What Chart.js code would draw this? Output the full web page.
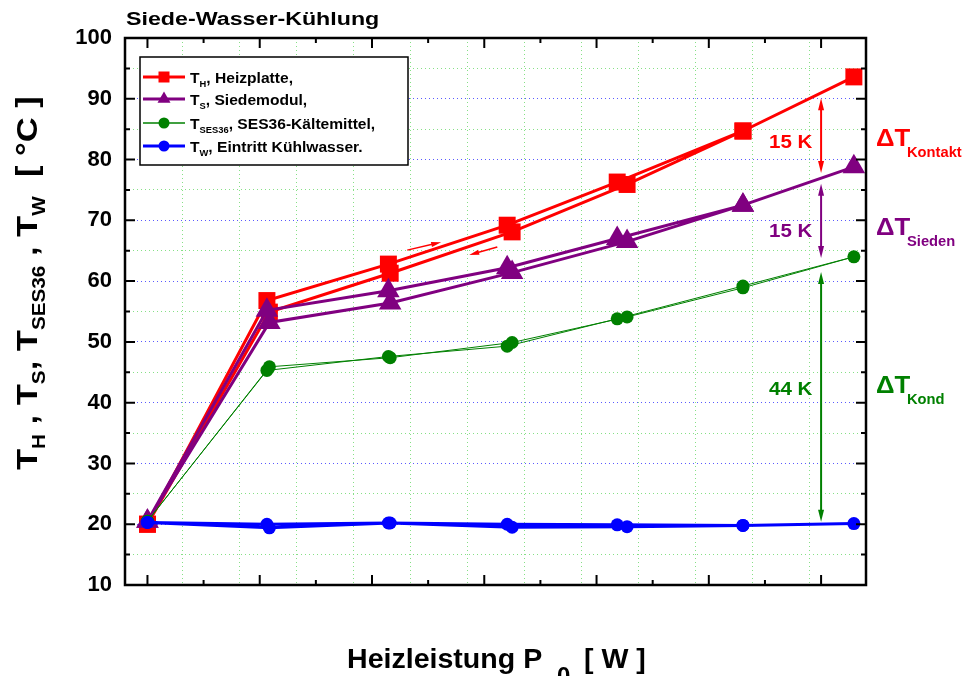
<!DOCTYPE html>
<html>
<head>
<meta charset="utf-8">
<script src="https://cdn.jsdelivr.net/npm/chart.js@4.4.0/dist/chart.umd.min.js"></script>
<style>
  html, body { margin: 0; padding: 0; background: #fff; }
</style>
</head>
<body>
<canvas id="chart" width="965" height="676"></canvas>
<script>
// heating power, up the ramp and back down again (W)
const power = [0, 532, 1073, 1602, 2092, 2652, 3146, 2652, 2136, 1624, 1081, 543, 0];
const tHeiz = [20.0, 56.8, 62.8, 69.2, 76.3, 84.7, 93.6, 84.7, 75.9, 68.1, 61.3, 54.9, 20.0];
const tSiede = [20.5, 55.2, 58.4, 62.2, 67.0, 72.5, 78.8, 72.5, 66.5, 61.4, 56.4, 53.2, 20.5];
const tSes36 = [20.5, 45.3, 47.6, 49.3, 53.8, 59.2, 64.0, 58.9, 54.1, 49.9, 47.4, 45.9, 20.5];
const tWasser = [20.3, 20.0, 20.2, 20.0, 19.9, 19.8, 20.1, 19.8, 19.6, 19.5, 20.2, 19.4, 20.3];

const xTicks = [0, 500, 1000, 1500, 2000, 2500, 3000];
const yTicks = [10, 20, 30, 40, 50, 60, 70, 80, 90, 100];

// delta annotations at P = 3000 W
const deltaAt = 3000;
const deltas = [
  { from: 90.1, to: 77.8, label: '15 K', sym: 'Kontakt', color: '#ff0000', base: 148 },
  { from: 76.0, to: 63.8, label: '15 K', sym: 'Sieden', color: '#800080', base: 237 },
  { from: 61.5, to: 20.4, label: '44 K', sym: 'Kond', color: '#008000', base: 395 }
];

const RED = '#ff0000', PURPLE = '#800080', GREEN = '#008000', BLUE = '#0000ff';
const FONT = '"Liberation Sans", Arial, sans-serif';

const pts = vals => power.map((p, i) => ({ x: p, y: vals[i] }));

function rich(ctx, segs, x, y, color, sx) {
  ctx.save();
  ctx.translate(x, y);
  ctx.scale(sx || 1, 1);
  ctx.fillStyle = color;
  ctx.textBaseline = 'alphabetic';
  let cx = 0;
  segs.forEach(([s, size, dy]) => {
    ctx.font = 'bold ' + size + 'px ' + FONT;
    ctx.fillText(s, cx, dy);
    cx += ctx.measureText(s).width;
  });
  ctx.restore();
}

function marker(ctx, type, x, y, r, color) {
  ctx.fillStyle = color;
  ctx.beginPath();
  if (type === 'rect') {
    ctx.rect(x - r, y - r, 2 * r, 2 * r);
  } else if (type === 'triangle') {
    ctx.moveTo(x, y - r);
    ctx.lineTo(x + r * 0.866, y + r / 2);
    ctx.lineTo(x - r * 0.866, y + r / 2);
    ctx.closePath();
  } else {
    ctx.arc(x, y, r, 0, Math.PI * 2);
  }
  ctx.fill();
}

function head(ctx, x, y, ang, len, w, color) {
  ctx.save();
  ctx.translate(x, y);
  ctx.rotate(ang);
  ctx.fillStyle = color;
  ctx.beginPath();
  ctx.moveTo(0, 0);
  ctx.lineTo(-len, -w / 2);
  ctx.lineTo(-len, w / 2);
  ctx.closePath();
  ctx.fill();
  ctx.restore();
}

const decor = {
  id: 'decor',
  afterDraw(chart) {
    const ctx = chart.ctx;
    const a = chart.chartArea;
    const xs = chart.scales.x, ys = chart.scales.y;
    const X = v => xs.getPixelForValue(v), Y = v => ys.getPixelForValue(v);

    // inward ticks on all four sides
    ctx.save();
    ctx.strokeStyle = '#000';
    ctx.lineWidth = 2;
    ctx.beginPath();
    xTicks.forEach(v => {
      [[v, 10], [v + 250, 5]].forEach(([t, len]) => {
        if (t > xs.max) return;
        const px = X(t);
        ctx.moveTo(px, a.bottom); ctx.lineTo(px, a.bottom - len);
        ctx.moveTo(px, a.top); ctx.lineTo(px, a.top + len);
      });
    });
    yTicks.forEach(v => {
      [[v, 10], [v + 5, 5]].forEach(([t, len]) => {
        if (t > ys.max) return;
        const py = Y(t);
        ctx.moveTo(a.left, py); ctx.lineTo(a.left + len, py);
        ctx.moveTo(a.right, py); ctx.lineTo(a.right - len, py);
      });
    });
    ctx.stroke();
    ctx.lineWidth = 2.5;
    ctx.strokeRect(a.left, a.top, a.right - a.left, a.bottom - a.top);
    ctx.restore();

    // title
    rich(ctx, [['Siede-Wasser-Kühlung', 18, 0]], 126, 25, '#000', 1.29);

    // x axis title
    rich(ctx, [['Heizleistung P', 28, 0]], 347, 668, '#000', 1.02);
    rich(ctx, [['0', 24, 0]], 557, 684, '#000', 1);
    rich(ctx, [['[ W ]', 28, 0]], 584, 668, '#000', 1.02);

    // y axis title
    ctx.save();
    ctx.translate(37, 470);
    ctx.rotate(-Math.PI / 2);
    rich(ctx, [['T', 30, 0], ['H', 18, 8], [' , ', 30, 0], ['T', 30, 0], ['S', 18, 8], [', ', 30, 0],
               ['T', 30, 0], ['SES36', 18, 8], [' , ', 30, 0], ['T', 30, 0], ['W', 18, 8], ['  [ °C ]', 30, 0]],
         0, 0, '#000', 1.15);
    ctx.restore();

    // legend
    ctx.save();
    ctx.fillStyle = '#fff';
    ctx.fillRect(140, 57, 268, 108);
    ctx.strokeStyle = '#000';
    ctx.lineWidth = 1.5;
    ctx.strokeRect(140, 57, 268, 108);
    const rows = [
      [RED, 3, 'rect', 5.5, 'H', ', Heizplatte,'],
      [PURPLE, 3, 'triangle', 7.5, 'S', ', Siedemodul,'],
      [GREEN, 1.5, 'circle', 5.5, 'SES36', ', SES36-Kältemittel,'],
      [BLUE, 3, 'circle', 5.5, 'W', ', Eintritt Kühlwasser.']
    ];
    rows.forEach(([c, lw, m, r, sub, text], i) => {
      const cy = [77, 99, 123, 146][i];
      ctx.strokeStyle = c;
      ctx.lineWidth = lw;
      ctx.beginPath();
      ctx.moveTo(143, cy); ctx.lineTo(185, cy);
      ctx.stroke();
      marker(ctx, m, 164, cy, r, c);
      rich(ctx, [['T', 15, 0], [sub, 9, 4], [text, 15, 0]], 190, cy + 6, '#000', 1.04);
    });
    ctx.restore();

    // delta arrows and labels
    ctx.save();
    const px = X(deltaAt);
    deltas.forEach(d => {
      const y1 = Y(d.from), y2 = Y(d.to);
      ctx.strokeStyle = d.color;
      ctx.lineWidth = 2;
      ctx.beginPath();
      ctx.moveTo(px, y1 + 8); ctx.lineTo(px, y2 - 8);
      ctx.stroke();
      head(ctx, px, y1, -Math.PI / 2, 12, 6, d.color);
      head(ctx, px, y2, Math.PI / 2, 12, 6, d.color);
      rich(ctx, [[d.label, 18, 0]], 769, d.base, d.color, 1.14);
      rich(ctx, [['\u0394T', 23, 0]], 876, d.base - 2, d.color, 1.12);
      rich(ctx, [[d.sym, 14, 0]], 907, d.base + 9, d.color, 1.05);
    });
    // direction of the ramp
    ctx.strokeStyle = RED;
    ctx.lineWidth = 1.5;
    [[1157, 65.1, 1308, 66.4], [1558, 65.6, 1433, 64.3]].forEach(([x1, y1, x2, y2]) => {
      const ax = X(x1), ay = Y(y1), bx = X(x2), by = Y(y2);
      const ang = Math.atan2(by - ay, bx - ax);
      ctx.beginPath();
      ctx.moveTo(ax, ay); ctx.lineTo(bx - 8 * Math.cos(ang), by - 8 * Math.sin(ang));
      ctx.stroke();
      head(ctx, bx, by, ang, 10, 5, RED);
    });
    ctx.restore();
  }
};

const gridColor = major => c => (c.tick && c.tick.value % major === 0) ? '#5a5aff' : '#86e086';

new Chart(document.getElementById('chart'), {
  type: 'scatter',
  data: {
    datasets: [
      { data: pts(tHeiz), showLine: true, borderColor: RED, backgroundColor: RED, borderWidth: 3,
        pointStyle: 'rect', pointRadius: 12, pointBorderWidth: 0, order: 4 },
      { data: pts(tSiede), showLine: true, borderColor: PURPLE, backgroundColor: PURPLE, borderWidth: 3,
        pointStyle: 'triangle', pointRadius: 13, pointBorderWidth: 0, order: 3 },
      { data: pts(tSes36), showLine: true, borderColor: GREEN, backgroundColor: GREEN, borderWidth: 1,
        pointStyle: 'circle', pointRadius: 6.5, pointBorderWidth: 0, order: 2 },
      { data: pts(tWasser), showLine: true, borderColor: BLUE, backgroundColor: BLUE, borderWidth: 3,
        pointStyle: 'circle', pointRadius: 6.5, pointBorderWidth: 0, order: 1 }
    ]
  },
  options: {
    responsive: false,
    animation: false,
    devicePixelRatio: 1,
    layout: { padding: { top: 38, right: 99, left: 0, bottom: 0 } },
    plugins: { legend: { display: false }, tooltip: { enabled: false } },
    scales: {
      x: {
        type: 'linear', min: -100, max: 3200,
        afterFit: s => { s.height = 91; },
        ticks: {
          stepSize: 250, includeBounds: false, autoSkip: false, maxRotation: 0, padding: 9,
          color: '#000', font: { family: FONT, size: 22, weight: 'bold' },
          callback: v => (v % 500 === 0 ? v : '')
        },
        grid: { drawTicks: false, lineWidth: 1, color: gridColor(500) },
        border: { display: false, dash: [1, 3] }
      },
      y: {
        min: 10, max: 100,
        afterFit: s => { s.width = 125; },
        ticks: {
          stepSize: 5, includeBounds: false, autoSkip: false, padding: 13,
          color: '#000', font: { family: FONT, size: 22, weight: 'bold' },
          callback: v => (v % 10 === 0 ? v : '')
        },
        grid: { drawTicks: false, lineWidth: 1, color: gridColor(10) },
        border: { display: false, dash: [1, 3] }
      }
    }
  },
  plugins: [decor]
});
</script>
</body>
</html>
